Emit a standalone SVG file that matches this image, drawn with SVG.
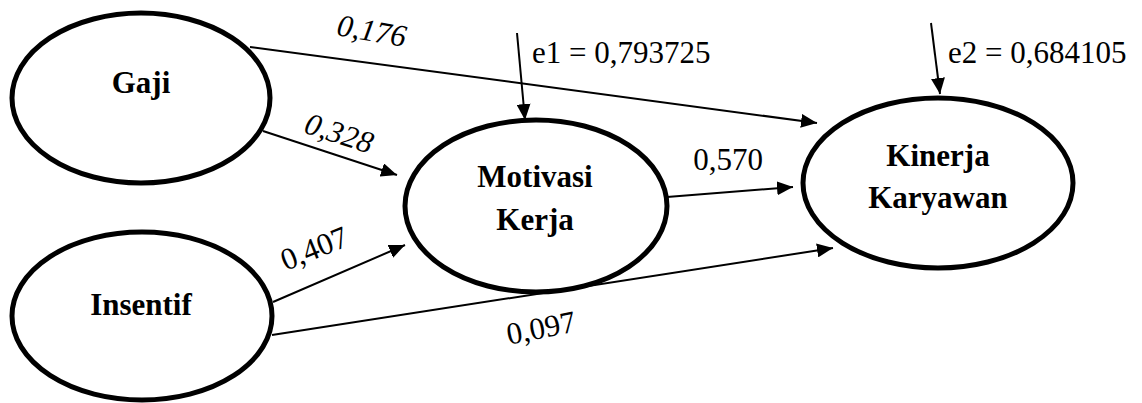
<svg xmlns="http://www.w3.org/2000/svg" width="1142" height="403" viewBox="0 0 1142 403">
<style>
.node{fill:#fff;stroke:#000;stroke-width:5}
.nt{font-weight:bold;font-size:31px;text-anchor:middle;fill:#000}
.lb{font-size:31px;fill:#000}
.it{font-style:italic}
.c{stroke:#000;stroke-width:2;fill:none;marker-end:url(#ah)}
</style>
<defs>
<marker id="ah" markerUnits="userSpaceOnUse" markerWidth="18" markerHeight="14" refX="16" refY="7" orient="auto" viewBox="0 0 18 14">
<path d="M0,0 L16,7 L0,14 Z" fill="#000"/>
</marker>
</defs>
<g id="connectors">
<line class="c" x1="250" y1="47" x2="817" y2="123"/>
<line class="c" x1="263" y1="131" x2="397" y2="175"/>
<line class="c" x1="273" y1="302" x2="405" y2="245"/>
<line class="c" x1="272" y1="335" x2="833" y2="248"/>
<line class="c" x1="667" y1="197" x2="793" y2="187"/>
<line class="c" x1="517" y1="33" x2="525" y2="120"/>
<line class="c" x1="931" y1="23" x2="940" y2="94"/>
</g>
<g font-family="Liberation Serif, serif">
<g id="gaji">
<ellipse class="node" cx="141" cy="98" rx="129" ry="85"/>
<text class="nt" x="141" y="93">Gaji</text>
</g>
<g id="insentif">
<ellipse class="node" cx="142" cy="316" rx="130" ry="84"/>
<text class="nt" x="141" y="315">Insentif</text>
</g>
<g id="motivasi">
<ellipse class="node" cx="536" cy="206" rx="131" ry="86"/>
<text class="nt" x="535" y="187">Motivasi</text>
<text class="nt" x="535" y="230">Kerja</text>
</g>
<g id="kinerja">
<ellipse class="node" cx="938" cy="183" rx="135" ry="85"/>
<text class="nt" x="938" y="166">Kinerja</text>
<text class="nt" x="938" y="208">Karyawan</text>
</g>
<g id="labels">
<text class="lb it" text-anchor="middle" transform="translate(370,41) rotate(10)">0,176</text>
<text class="lb it" text-anchor="middle" transform="translate(336,143) rotate(18)">0,328</text>
<text class="lb" text-anchor="middle" transform="translate(318,258) rotate(-22)">0,407</text>
<text class="lb" text-anchor="middle" transform="translate(543,338) rotate(-11)">0,097</text>
<text class="lb" text-anchor="middle" x="728" y="170">0,570</text>
<text class="lb" x="532" y="63">e1 = 0,793725</text>
<text class="lb" x="948" y="63">e2 = 0,684105</text>
</g>
</g>
</svg>
